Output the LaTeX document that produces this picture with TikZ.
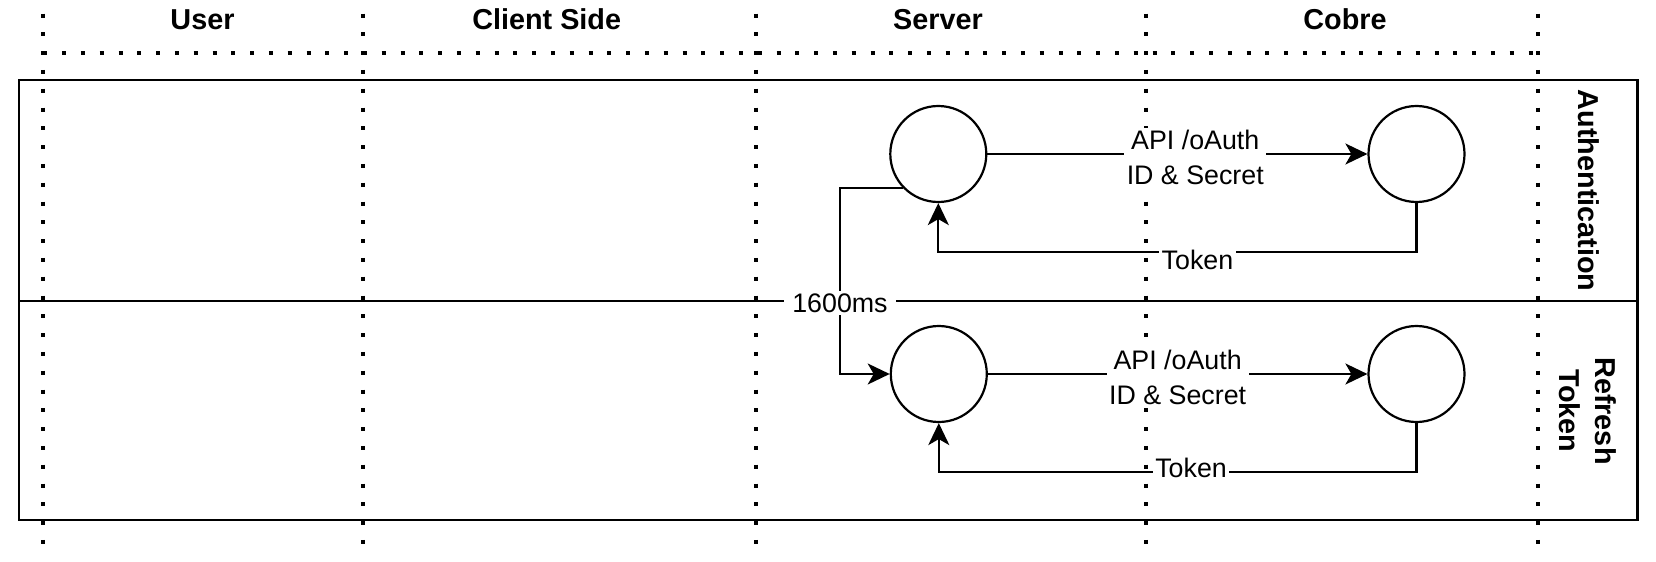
\documentclass[tikz,border=0pt]{standalone}
\usepackage{fontspec}
\setmainfont{Liberation Sans}
\usetikzlibrary{arrows.meta}

\begin{document}
\begin{tikzpicture}[x=0.5pt,y=-0.5pt,
	lane/.style={draw,line width=1.3pt},
	dotline/.style={line width=2pt,dash pattern=on 2pt off 7.4pt},
	proc/.style={circle,draw,line width=1.1pt,minimum size=48pt,inner sep=0pt},
	flow/.style={line width=1.1pt,-{Stealth[length=11pt,width=10.5pt,inset=3pt]}},
	lbl/.style={fill=white,inner sep=1.2pt,align=center,font=\fontsize{13.4}{17.5}\selectfont},
	colhead/.style={anchor=base,font=\bfseries\fontsize{14.4}{18}\selectfont},
	lanetitle/.style={rotate=-90,align=center,font=\bfseries\fontsize{14.4}{18}\selectfont}]
	\useasboundingbox (0,0) rectangle (1656,562);
	%
	\foreach \x in {43.3,362.5,756,1145.5,1537.5}
		\draw[dotline] (\x,13.5) -- (\x,546);
	\draw[dotline] (43.3,53.3) -- (1537.5,53.3);
	%
	\node[colhead] (user) at (202.5,29.5) {User};
	\node[colhead] (client) at (546.7,29.5) {Client Side};
	\node[colhead] (server) at (938,29.5) {Server};
	\node[colhead] (cobre) at (1345,29.5) {Cobre};
	%
	\draw[lane] (19,80) rectangle (1637.7,520);
	\draw[lane] (19,301) -- (1637.7,301);
	\node[lanetitle] (auth) at (1588.5,190.7) {Authentication};
	\node[lanetitle] (refresh) at (1587.5,411) {Refresh\\Token};
	%
	\node[proc] (srvA) at (938.3,154) {};
	\node[proc] (cobA) at (1416.5,154) {};
	\node[proc] (srvR) at (938.8,374) {};
	\node[proc] (cobR) at (1416.5,374) {};
	%
	\draw[flow] (srvA) -- node[lbl,pos=0.547,yshift=-1.75pt] {API /oAuth\\ID \& Secret} (cobA);
	\draw[flow] (cobA.south) -- ++(0,49) -| node[lbl,pos=0.229,yshift=-4pt] {Token} (srvA.south);
	\draw[flow] (srvA.224) -- ++(-63,0) |- node[lbl,pos=0.309,inner xsep=4pt] {1600ms} (srvR);
	\draw[flow] (srvR) -- node[lbl,pos=0.5,yshift=-1.75pt] {API /oAuth\\ID \& Secret} (cobR);
	\draw[flow] (cobR.south) -- ++(0,49) -| node[lbl,pos=0.236,yshift=2pt] {Token} (srvR.south);
\end{tikzpicture}
\end{document}
